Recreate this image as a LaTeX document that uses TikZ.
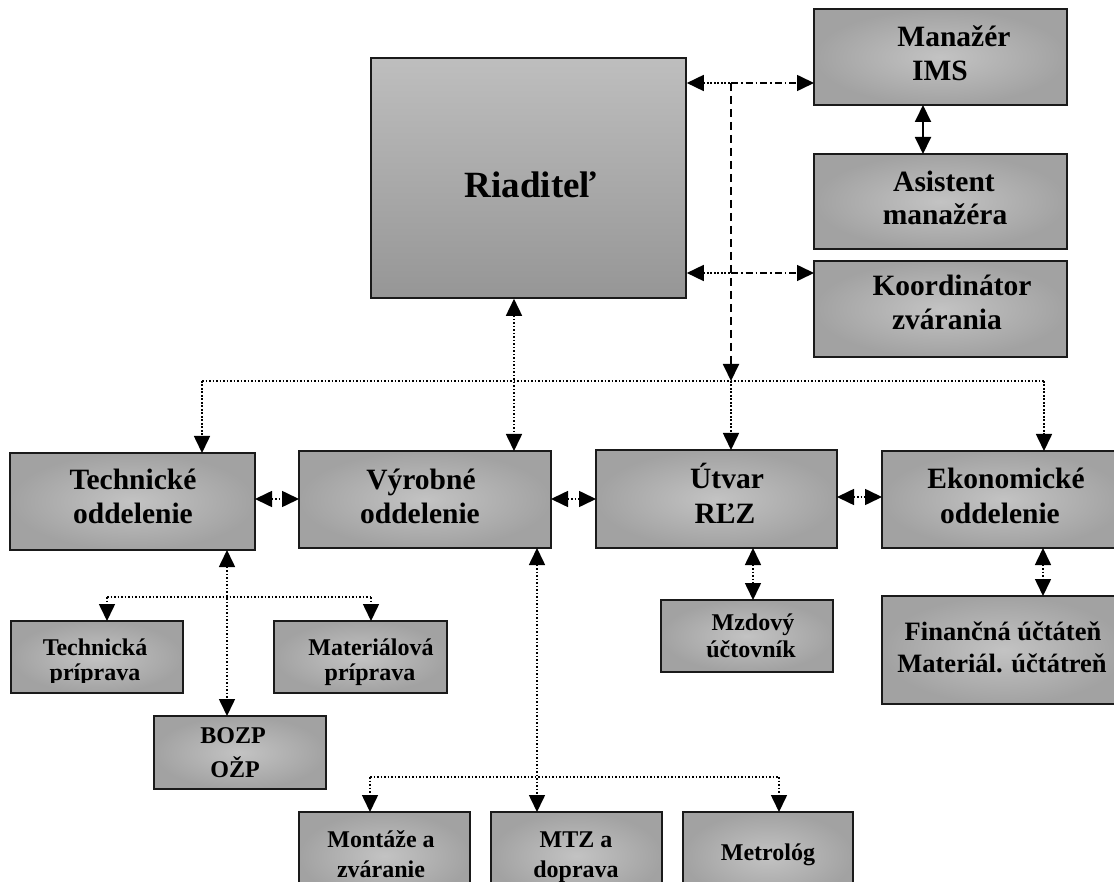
\documentclass[tikz,border=0pt]{standalone}
\usepackage{fontspec}
\setmainfont{Liberation Serif}
\usetikzlibrary{arrows.meta}
\definecolor{boxlight}{HTML}{C3C3C3}
\definecolor{boxdark}{HTML}{A2A2A2}
\definecolor{ridtop}{HTML}{BEBEBE}
\definecolor{ridbot}{HTML}{969696}
\definecolor{edge}{HTML}{1A1A1A}
\tikzset{
  box/.style={draw=edge, line width=1.8pt, inner color=boxlight, outer color=boxdark,
    anchor=north west, inner sep=0pt, outer sep=0pt},
  big/.style={font=\fontsize{29.5}{34}\selectfont\bfseries, anchor=base, inner sep=0pt},
  fin/.style={font=\fontsize{26.5}{32}\selectfont\bfseries, anchor=base, inner sep=0pt},
  small/.style={font=\fontsize{24}{27}\selectfont\bfseries, anchor=base, inner sep=0pt},
  dotl/.style={line width=1.6pt, dash pattern=on 1.6pt off 1.9pt},
  dashl/.style={line width=1.9pt, dash pattern=on 8pt off 5pt},
  dashdotl/.style={line width=1.6pt, dash pattern=on 7pt off 3pt on 1.6pt off 3pt},
  solidl/.style={line width=1.9pt},
}
\begin{document}
\begin{tikzpicture}[x=1pt, y=-1pt, >={Triangle[length=17pt,width=16pt]}]
\clip (0,0) rectangle (1114,882);
\fill[white] (0,0) rectangle (1114,882);

% boxes
\node[draw=edge, line width=1.8pt, top color=ridtop, bottom color=ridbot, anchor=north west,
      minimum width=315pt, minimum height=240pt, inner sep=0pt] (rid) at (370,57) {};
\node[box, minimum width=253pt, minimum height=96pt] (man) at (814,9) {};
\node[box, minimum width=253pt, minimum height=95pt] (asi) at (814,154) {};
\node[box, minimum width=253pt, minimum height=96pt] (koo) at (814,261) {};
\node[box, minimum width=245pt, minimum height=97pt] (tec) at (10,453) {};
\node[box, minimum width=252pt, minimum height=97pt] (vyr) at (299,451) {};
\node[box, minimum width=241pt, minimum height=98pt] (utv) at (596,450) {};
\node[box, minimum width=243pt, minimum height=97pt] (eko) at (882,451) {};
\node[box, minimum width=172pt, minimum height=72pt] (tpr) at (11,621) {};
\node[box, minimum width=173pt, minimum height=72pt] (mpr) at (274,621) {};
\node[box, minimum width=172pt, minimum height=73pt] (boz) at (154,716) {};
\node[box, minimum width=172pt, minimum height=72pt] (mzd) at (661,600) {};
\node[box, minimum width=243pt, minimum height=108pt] (fin) at (882,596) {};
\node[box, minimum width=171pt, minimum height=88pt] (mon) at (299,812) {};
\node[box, minimum width=171pt, minimum height=88pt] (mtz) at (491,812) {};
\node[box, minimum width=170pt, minimum height=88pt] (met) at (683,812) {};

% texts
\node[anchor=base, inner sep=0pt, font=\fontsize{37}{42}\selectfont\bfseries] (ridt) at (531,198) {Riaditeľ};
\node[big] (mant1) at (954,47) {Manažér};
\node[big] (mant2) at (940,81) {IMS};
\node[big] (asit1) at (944,192) {Asistent};
\node[big] (asit2) at (945,225) {manažéra};
\node[big] (koot1) at (952,296) {Koordinátor};
\node[big] (koot2) at (947,330) {zvárania};
\node[big] (tect1) at (133,489) {Technické};
\node[big] (tect2) at (133,523) {oddelenie};
\node[big] (vyrt1) at (421,489) {Výrobné};
\node[big] (vyrt2) at (420,523) {oddelenie};
\node[big] (utvt1) at (727,488) {Útvar};
\node[big] (utvt2) at (725,523) {RĽZ};
\node[big] (ekot1) at (1006,488) {Ekonomické};
\node[big] (ekot2) at (1000,523) {oddelenie};
\node[fin] (fint1) at (1003,640) {Finančná účtáteň};
\node[fin] (fint2) at (1002,672) {Materiál. účtátreň};
\begin{scope}
\clip (11,621) rectangle (183,682);
\node[small] (tprt1) at (95,655) {Technická};
\node[small] (tprt2) at (95,680) {príprava};
\end{scope}
\node[small] (mprt1) at (371,655) {Materiálová};
\node[small] (mprt2) at (370,680) {príprava};
\node[small] (bozt1) at (233,743) {BOZP};
\node[small] (bozt2) at (235,777) {OŽP};
\node[small] (mzdt1) at (753,630) {Mzdový};
\node[small] (mzdt2) at (751,657) {účtovník};
\node[small] (mont1) at (381,847) {Montáže a};
\node[small] (mont2) at (381,877) {zváranie};
\node[small] (mtzt1) at (576,847) {MTZ a};
\node[small] (mtzt2) at (576,877) {doprava};
\node[small] (mett) at (768,860) {Metrológ};

% junctions
\coordinate (j1) at (731,83);
\coordinate (j2) at (731,273);
\coordinate (j3) at (731,381);
\coordinate (hL) at (202,381);
\coordinate (hR) at (1044,381);
\coordinate (tL) at (107,597);
\coordinate (tM) at (227,597);
\coordinate (tR) at (371,597);
\coordinate (bL) at (370,777);
\coordinate (bM) at (537,777);
\coordinate (bR) at (779,777);

% director to staff
\draw[dotl,<-] (rid.east |- j1) -- (j1);
\draw[dashdotl,->] (j1) -- (man.west |- j1);
\draw[dotl,<-] (rid.east |- j2) -- (j2);
\draw[dashdotl,->] (j2) -- (koo.west |- j2);
\draw[solidl,<->] (man.south -| 923,0) -- (asi.north -| 923,0);
\draw[dashl,->] (j1) -- (j3);

% distribution line to departments
\draw[dotl] (hL) -- (hR);
\draw[dotl,->] (hL) -- (tec.north -| hL);
\draw[dotl,->] (j3) -- (utv.north -| j3);
\draw[dotl,->] (hR) -- (eko.north -| hR);
\draw[dotl,<->] (rid.south -| 514,0) -- (vyr.north -| 514,0);

% between departments
\draw[dotl,<->] (tec.east |- 0,499) -- (vyr.west |- 0,499);
\draw[dotl,<->] (vyr.east |- 0,499) -- (utv.west |- 0,499);
\draw[dotl,<->] (utv.east |- 0,497) -- (eko.west |- 0,497);

% technical department
\draw[dotl,<->] (tec.south -| tM) -- (boz.north -| tM);
\draw[dotl] (tL) -- (tR);
\draw[dotl,->] (tL) -- (tpr.north -| tL);
\draw[dotl,->] (tR) -- (mpr.north -| tR);

% production department
\draw[dotl,<->] (vyr.south -| bM) -- (mtz.north -| bM);
\draw[dotl] (bL) -- (bR);
\draw[dotl,->] (bL) -- (mon.north -| bL);
\draw[dotl,->] (bR) -- (met.north -| bR);

% RLZ and economic
\draw[dotl,<->] (utv.south -| 753,0) -- (mzd.north -| 753,0);
\draw[dotl,<->] (eko.south -| 1043,0) -- (fin.north -| 1043,0);
\end{tikzpicture}
\end{document}
